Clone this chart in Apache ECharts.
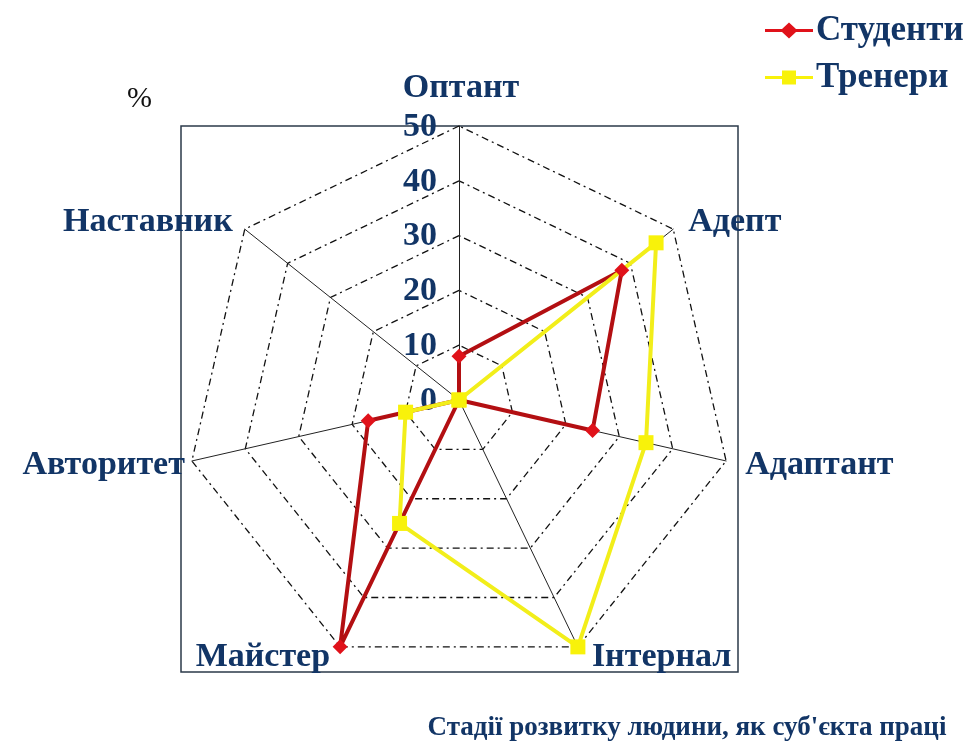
<!DOCTYPE html>
<html>
<head>
<meta charset="utf-8">
<script src="https://cdn.jsdelivr.net/npm/echarts@6/dist/echarts.min.js"></script>
<style>
  html, body { margin: 0; padding: 0; background: #fff; }
  #main { width: 965px; height: 745px; }
</style>
</head>
<body>
<div id="main"></div>
<script>
// stages, clockwise from the top as in the picture
var stages = ['Оптант', 'Адепт', 'Адаптант', 'Інтернал', 'Майстер', 'Авторитет', 'Наставник'];
var students = [8, 38, 25, 0, 50, 17, 0];
var trainers = [0, 46, 35, 50, 25, 10, 0];
var ticks = [0, 10, 20, 30, 40, 50];
var seriesNames = ['Студенти', 'Тренери'];

var navy = '#123566';
var serif = '"Liberation Serif", "DejaVu Serif", serif';
var cx = 459, cy = 400, R = 274;

// echarts puts radar indicators counter-clockwise, so flip the order after the first one
function ccw(arr) { return [arr[0]].concat(arr.slice(1).reverse()); }

// label offsets from each axis end (clockwise order)
var nameOffsets = [[2, -38, 'center'], [15, -7, 'left'], [19, 4, 'left'], [14, 10, 'left'],
                   [-10, 10, 'right'], [-7, 4, 'right'], [-12, -7, 'right']];

var graphics = [
  { type: 'rect', shape: { x: 181, y: 126, width: 557, height: 546 }, z: 0,
    style: { fill: 'none', stroke: '#2b3a4a', lineWidth: 1.5 } },
  { type: 'text', left: 127, top: 84,
    style: { text: '%', font: '30px ' + serif, fill: '#111' } },
  { type: 'text', x: 687, y: 728,
    style: { text: "Стадії розвитку людини, як суб'єкта праці", font: 'bold 27px ' + serif, fill: navy,
             textAlign: 'center', textVerticalAlign: 'middle' } }
];

stages.forEach(function (name, i) {
  var a = Math.PI / 2 - i * 2 * Math.PI / stages.length;
  var o = nameOffsets[i];
  graphics.push({
    type: 'text', x: cx + R * Math.cos(a) + o[0], y: cy - R * Math.sin(a) + o[1],
    style: { text: name, font: 'bold 34px ' + serif, fill: navy, textAlign: o[2], textVerticalAlign: 'middle' }
  });
});

ticks.forEach(function (t) {
  graphics.push({
    type: 'text', x: cx - 22, y: cy - R * t / 50 + 1,
    style: { text: String(t), font: 'bold 34px ' + serif, fill: navy, textAlign: 'right', textVerticalAlign: 'middle' }
  });
});

var option = {
  animation: false,
  legend: {
    data: [
      { name: seriesNames[0], icon: 'path://M0,6.5H17L24,0L31,6.5H48V9.5H31L24,16L17,9.5H0Z' },
      { name: seriesNames[1], icon: 'path://M0,6.5H17V1H31V6.5H48V9.5H31V15H17V9.5H0Z' }
    ],
    orient: 'vertical',
    left: 760, top: 8,
    itemWidth: 48, itemHeight: 16, itemGap: 12,
    textStyle: { fontFamily: serif, fontWeight: 'bold', fontSize: 35, color: navy, padding: [0, 0, 0, -2] }
  },
  radar: {
    center: [cx, cy],
    radius: R,
    startAngle: 90,
    shape: 'polygon',
    splitNumber: 5,
    indicator: ccw(stages).map(function (s) { return { name: s, min: 0, max: 50 }; }),
    axisName: { show: false },
    axisLine: { lineStyle: { color: '#222', width: 1 } },
    splitLine: { lineStyle: { color: '#111', width: 1.3, type: [7, 4, 2, 4] } },
    splitArea: { show: false }
  },
  graphic: graphics,
  series: [{
    type: 'radar',
    data: [
      { name: seriesNames[0], value: ccw(students),
        symbol: 'diamond', symbolSize: 15,
        lineStyle: { color: '#b30f12', width: 4 },
        itemStyle: { color: '#e0121a' } },
      { name: seriesNames[1], value: ccw(trainers),
        symbol: 'rect', symbolSize: 15,
        lineStyle: { color: '#f2ee1a', width: 4 },
        itemStyle: { color: '#f8f20a' } }
    ]
  }]
};

var myChart = echarts.init(document.getElementById('main'));
myChart.setOption(option);
</script>
</body>
</html>
